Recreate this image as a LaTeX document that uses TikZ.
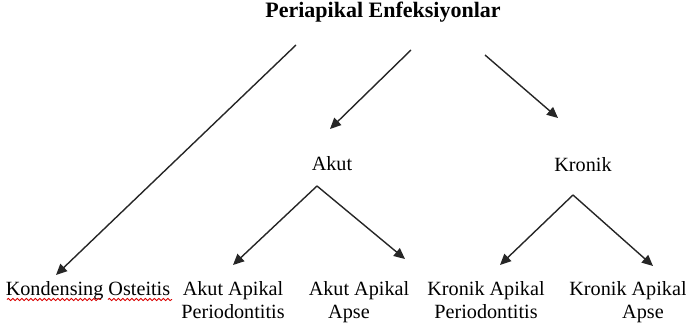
\documentclass[tikz,border=0pt]{standalone}
\usepackage{fontspec}
\setmainfont{Liberation Serif}
\usetikzlibrary{arrows.meta,decorations.pathmorphing}
\begin{document}
\begin{tikzpicture}[x=1pt,y=-1pt,
  lbl/.style={inner sep=0pt,anchor=base,font=\fontsize{20.2}{24}\selectfont},
  ttl/.style={inner sep=0pt,anchor=base,font=\fontsize{22}{26}\selectfont\bfseries},
  arr/.style={line width=1.4pt,draw=black!85,-{Triangle[length=11pt,width=10pt]}},
  wavy/.style={draw=red!85!black,line width=0.9pt,decorate,
    decoration={snake,amplitude=1.1pt,segment length=4.5pt}}]
\useasboundingbox (0,0) rectangle (686,329);

% headings
\node[ttl] (root) at (383,18) {Periapikal Enfeksiyonlar};
\node[lbl] (akut) at (332,170) {Akut};
\node[lbl] (kronik) at (583,171) {Kronik};

% leaves
\node[lbl] (kond) at (88,295) {Kondensing Osteitis};
\node[lbl] (aap1) at (233,295) {Akut Apikal};
\node[lbl] (aap2) at (233,318) {Periodontitis};
\node[lbl] (aa1) at (359,295) {Akut Apikal};
\node[lbl] (aa2) at (349,318) {Apse};
\node[lbl] (kap1) at (486,295) {Kronik Apikal};
\node[lbl] (kap2) at (486,318) {Periodontitis};
\node[lbl] (ka1) at (628,295) {Kronik Apikal};
\node[lbl] (ka2) at (643,318) {Apse};

% arrow end points
\coordinate (r1) at (296,45);
\coordinate (r2) at (411,50);
\coordinate (r3) at (485,55);
\coordinate (kondT) at (56,275);
\coordinate (akutT) at (330,129);
\coordinate (kronikT) at (558,118);
\coordinate (akutA) at (317,186);
\coordinate (aapT) at (233,265);
\coordinate (aaT) at (405,259);
\coordinate (kronikA) at (573,195);
\coordinate (kapT) at (500,265);
\coordinate (kaT) at (653,266);

\draw[arr] (r1) -- (kondT);
\draw[arr] (r2) -- (akutT);
\draw[arr] (r3) -- (kronikT);
\draw[arr] (akutA) -- (aapT);
\draw[arr] (akutA) -- (aaT);
\draw[arr] (kronikA) -- (kapT);
\draw[arr] (kronikA) -- (kaT);

% spelling underline
\draw[wavy] (7,299.5) -- (101,299.5);
\draw[wavy] (108,299.5) -- (172,299.5);
\end{tikzpicture}
\end{document}
